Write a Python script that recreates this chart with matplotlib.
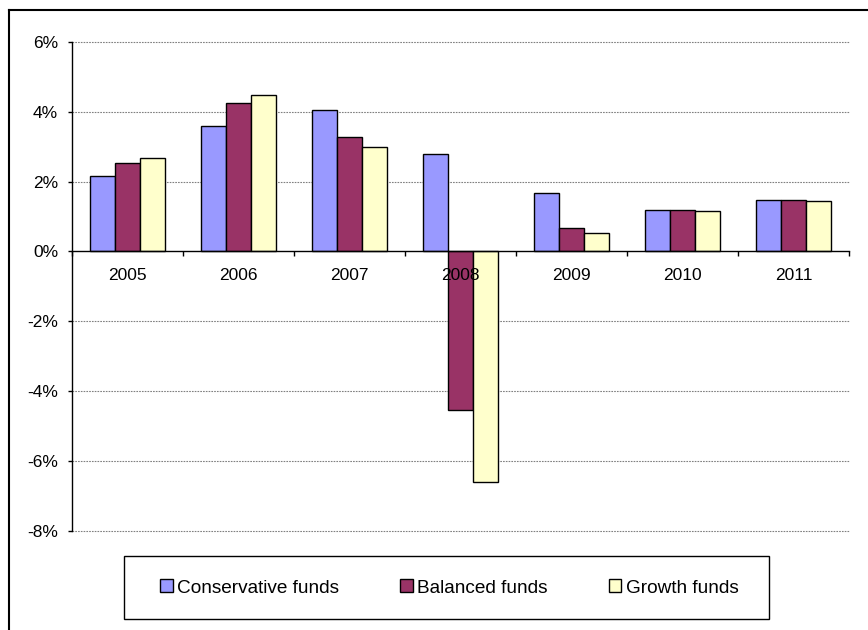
import matplotlib
matplotlib.use("Agg")
import matplotlib.pyplot as plt
import numpy as np
from matplotlib.lines import Line2D
from matplotlib.patches import Rectangle

years = ["2005", "2006", "2007", "2008", "2009", "2010", "2011"]
conservative = [2.15, 3.59, 4.04, 2.79, 1.66, 1.20, 1.48]
balanced = [2.52, 4.26, 3.27, -4.54, 0.67, 1.20, 1.48]
growth = [2.69, 4.49, 3.00, -6.60, 0.53, 1.16, 1.44]
series_names = ["Conservative funds", "Balanced funds", "Growth funds"]
colors = ["#9999FF", "#993366", "#FFFFCC"]
yticks = [-8, -6, -4, -2, 0, 2, 4, 6]
ytick_labels = ["-8%", "-6%", "-4%", "-2%", "0%", "2%", "4%", "6%"]

plt.rcParams['font.family'] = ['Liberation Sans', 'DejaVu Sans']

W, H = 868, 630
fig = plt.figure(figsize=(W / 100, H / 100), dpi=100)
ax = fig.add_axes([72 / W, 1 - 530.7 / H, (849 - 72) / W, (530.7 - 42) / H])

x = np.arange(len(years))
bw = 0.228
for i, (vals, name, c) in enumerate(zip([conservative, balanced, growth], series_names, colors)):
    ax.bar(x + (i - 1) * bw, vals, width=bw, color=c, edgecolor="black",
           linewidth=1.0, label=name, zorder=2)

ax.set_xlim(-0.5, len(years) - 0.5)
ax.set_ylim(-8, 6)
ax.set_yticks(yticks)
ax.set_yticklabels(ytick_labels, fontsize=12.5)
for t in yticks:
    if t != 0:
        ax.axhline(t, color="#808080", linestyle=(0, (1.5, 1)), linewidth=0.8,
                   zorder=1, clip_on=False)
ax.set_axisbelow(False)

ax.spines['top'].set_visible(False)
ax.spines['right'].set_visible(False)
ax.spines['bottom'].set_position(('data', 0))
for s in ('left', 'bottom'):
    ax.spines[s].set_color('black')
    ax.spines[s].set_linewidth(1.0)

ax.set_xticks(np.arange(-0.5, len(years), 1.0))
ax.set_xticklabels([])
ax.set_xticks(x, minor=True)
ax.set_xticklabels(years, minor=True, fontsize=12.5)
ax.tick_params(axis='x', which='major', direction='out', length=3.5, width=1, color='black')
ax.tick_params(axis='x', which='minor', length=0, pad=12)
ax.tick_params(axis='y', direction='out', length=3, width=1, pad=7)
for lab in ax.get_xticklabels(minor=True):
    lab.set_zorder(5)

# outer frame (left and top edges visible)
fig.add_artist(Line2D([9 / W, 9 / W], [0, 1 - 10 / H], transform=fig.transFigure,
                      color='black', linewidth=1.5))
fig.add_artist(Line2D([9 / W, 1], [1 - 10 / H, 1 - 10 / H], transform=fig.transFigure,
                      color='black', linewidth=1.5))

# legend box
fig.add_artist(Rectangle((124 / W, 1 - 619 / H), (769 - 124) / W, (619 - 556) / H,
                         transform=fig.transFigure, facecolor='white',
                         edgecolor='black', linewidth=1.0))
handles, labels = ax.get_legend_handles_labels()
leg = fig.legend(handles, labels, loc='center', bbox_to_anchor=(449.5 / W, 1 - 588 / H),
                 ncol=3, frameon=False, fontsize=13.7, handlelength=0.65, handleheight=0.65,
                 handletextpad=0.25, columnspacing=3.2)

fig.savefig("out.png", dpi=100)
